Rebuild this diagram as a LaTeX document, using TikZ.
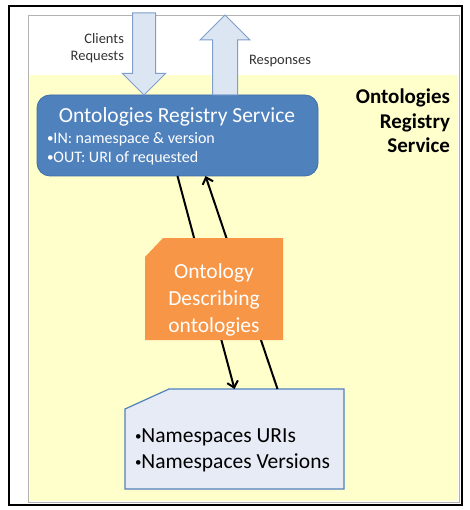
\documentclass[tikz,border=0pt]{standalone}
\usepackage{fontspec}
\setmainfont{Carlito}
\usetikzlibrary{shapes.arrows,arrows.meta}
\definecolor{regblue}{HTML}{4F81BD}
\definecolor{regedge}{HTML}{3F6FA8}
\definecolor{ontorange}{HTML}{F79646}
\definecolor{paleblue}{HTML}{DCE6F2}
\definecolor{arrowedge}{HTML}{7E9FCC}
\definecolor{boxblue}{HTML}{E6EBF5}
\definecolor{bgyellow}{HTML}{FFFFCC}
\newcommand{\bul}{\raisebox{.2ex}{\fontsize{13}{13}\selectfont •}}

\begin{document}
\begin{tikzpicture}[x=1pt, y=-1pt,
        every node/.style={inner sep=0pt, outer sep=0pt},
        bigarrow/.style={single arrow, draw=arrowedge, fill=paleblue, line width=1pt},
        flow/.style={-{Straight Barb[length=6pt,width=11pt]}, line width=2pt}]

    \useasboundingbox (0,0) rectangle (469,510);
    \draw[line width=1.5pt] (9,6) rectangle (462,505);
    \draw[gray!60, line width=0.6pt] (28,15) rectangle (459,502);
    \fill[bgyellow] (30,75) rectangle (458,501);

    % registry service
    \node[rounded corners=13pt, fill=regblue, draw=regedge, line width=0.8pt,
        minimum width=281pt, minimum height=81pt] (reg) at (177.5,135.5) {};
    \node[text=white, font=\fontsize{21.5}{24}\selectfont] (regtitle) at (177,117) {Ontologies Registry Service};
    \node[text=white, font=\fontsize{16}{19}\selectfont, align=left, anchor=west] (regio) at (47,149)
        {\bul IN: namespace \& version\\\bul OUT: URI of requested};
    \node[font=\bfseries\fontsize{21}{24.5}\selectfont, align=right, anchor=north east] (regname) at (450,89)
        {Ontologies\\Registry\\Service};

    % clients
    \node[bigarrow, shape border rotate=270, inner sep=11pt, minimum height=82pt,
        single arrow head extend=10pt, anchor=tip] (req) at ([xshift=-33.5pt]reg.north) {};
    \node[bigarrow, shape border rotate=90, inner sep=12pt, minimum height=80pt,
        single arrow head extend=12.5pt, anchor=tail] (resp) at ([xshift=47.5pt]reg.north) {};
    \node[font=\fontsize{14.5}{17}\selectfont, align=right, anchor=east, text=black!80] (reqlabel) at (124,48)
        {Clients\\Requests};
    \node[font=\fontsize{14.5}{17}\selectfont, anchor=west, text=black!80] (resplabel) at (249,61) {Responses};

    % namespaces store
    \node[minimum width=219pt, minimum height=100pt] (nsp) at (234.5,439) {};
    \draw[fill=boxblue, draw=regblue, line width=1.2pt] ([xshift=44pt]nsp.north west) -- (nsp.north east)
        -- (nsp.south east) -- (nsp.south west) -- ([yshift=-20pt]nsp.north west) -- cycle;
    \node[font=\fontsize{21.5}{26}\selectfont, align=left, anchor=west] (nsptext) at (135,450)
        {\bul Namespaces URIs\\\bul Namespaces Versions};

    \draw[flow] (reg.south) -- (nsp.north);
    \draw[flow] ([xshift=43pt]nsp.north) -- ([xshift=28pt]reg.south);

    % ontology of ontologies
    \node[minimum width=138pt, minimum height=102pt] (onto) at (214,289) {};
    \fill[ontorange] ([xshift=18pt]onto.north west) -- (onto.north east) -- (onto.south east)
        -- (onto.south west) -- ([yshift=-19pt]onto.north west) -- cycle;
    \node[text=white, font=\fontsize{21.5}{27}\selectfont, align=center] (ontotext) at (214,300)
        {Ontology\\Describing\\ontologies};
\end{tikzpicture}
\end{document}
